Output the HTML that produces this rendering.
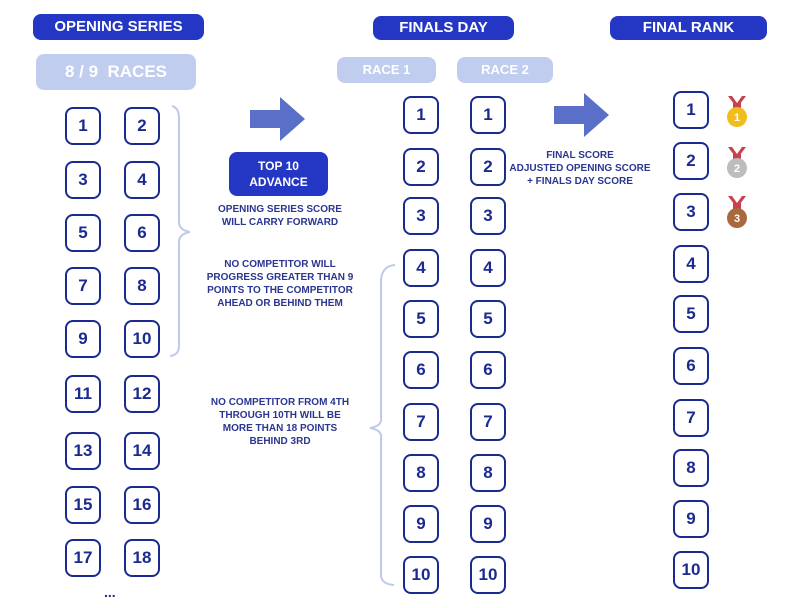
<!DOCTYPE html>
<html><head><style>
body{margin:0;width:800px;height:608px;background:#fff;position:relative;overflow:hidden;font-family:"Liberation Sans",sans-serif;}
.a{position:absolute}
.pill{position:absolute;background:#2437c4;color:#fff;font-weight:bold;text-align:center;border-radius:8px;font-size:15px;}
.bar{position:absolute;background:#c0cdee;color:#fff;font-weight:bold;text-align:center;border-radius:8px;}
.b{position:absolute;width:32px;height:34px;border:2.5px solid #1b2a8f;border-radius:8px;color:#1b2a8f;font-weight:bold;font-size:17px;text-align:center;line-height:34px;box-sizing:content-box}
.t{position:absolute;color:#2a3690;font-weight:bold;font-size:10px;text-align:center;line-height:13px}
</style></head><body>
<div class="pill" style="left:33px;top:14px;width:171px;height:26px;line-height:26px">OPENING SERIES</div>
<div class="pill" style="left:373px;top:16px;width:141px;height:24px;line-height:24px">FINALS DAY</div>
<div class="pill" style="left:610px;top:16px;width:157px;height:24px;line-height:24px">FINAL RANK</div>
<div class="bar" style="left:36px;top:54px;width:160px;height:36px;line-height:36px;font-size:17px">8 / 9&nbsp; RACES</div>
<div class="bar" style="left:337px;top:57px;width:99px;height:26px;line-height:26px;font-size:13px">RACE 1</div>
<div class="bar" style="left:457px;top:57px;width:96px;height:26px;line-height:26px;font-size:13px">RACE 2</div>

<div class="b" style="left:65px;top:107px">1</div><div class="b" style="left:124px;top:107px">2</div>
<div class="b" style="left:65px;top:161px">3</div><div class="b" style="left:124px;top:161px">4</div>
<div class="b" style="left:65px;top:214px">5</div><div class="b" style="left:124px;top:214px">6</div>
<div class="b" style="left:65px;top:267px">7</div><div class="b" style="left:124px;top:267px">8</div>
<div class="b" style="left:65px;top:320px">9</div><div class="b" style="left:124px;top:320px">10</div>
<div class="b" style="left:65px;top:375px">11</div><div class="b" style="left:124px;top:375px">12</div>
<div class="b" style="left:65px;top:432px">13</div><div class="b" style="left:124px;top:432px">14</div>
<div class="b" style="left:65px;top:486px">15</div><div class="b" style="left:124px;top:486px">16</div>
<div class="b" style="left:65px;top:539px">17</div><div class="b" style="left:124px;top:539px">18</div>
<div class="a" style="left:104px;top:584px;color:#1b2a8f;font-weight:bold;font-size:14px">...</div>

<div class="b" style="left:403px;top:96px">1</div><div class="b" style="left:470px;top:96px">1</div>
<div class="b" style="left:403px;top:148px">2</div><div class="b" style="left:470px;top:148px">2</div>
<div class="b" style="left:403px;top:197px">3</div><div class="b" style="left:470px;top:197px">3</div>
<div class="b" style="left:403px;top:249px">4</div><div class="b" style="left:470px;top:249px">4</div>
<div class="b" style="left:403px;top:300px">5</div><div class="b" style="left:470px;top:300px">5</div>
<div class="b" style="left:403px;top:351px">6</div><div class="b" style="left:470px;top:351px">6</div>
<div class="b" style="left:403px;top:403px">7</div><div class="b" style="left:470px;top:403px">7</div>
<div class="b" style="left:403px;top:454px">8</div><div class="b" style="left:470px;top:454px">8</div>
<div class="b" style="left:403px;top:505px">9</div><div class="b" style="left:470px;top:505px">9</div>
<div class="b" style="left:403px;top:556px">10</div><div class="b" style="left:470px;top:556px">10</div>

<div class="b" style="left:673px;top:91px">1</div>
<div class="b" style="left:673px;top:142px">2</div>
<div class="b" style="left:673px;top:193px">3</div>
<div class="b" style="left:673px;top:245px">4</div>
<div class="b" style="left:673px;top:295px">5</div>
<div class="b" style="left:673px;top:347px">6</div>
<div class="b" style="left:673px;top:399px">7</div>
<div class="b" style="left:673px;top:449px">8</div>
<div class="b" style="left:673px;top:500px">9</div>
<div class="b" style="left:673px;top:551px">10</div>

<svg class="a" style="left:0;top:0" width="800" height="608">
<path d="M250 110 H280 V97 L305 119 L280 141 V128 H250 Z" fill="#5a6fc8"/>
<path d="M554 106 H584 V93 L609 115 L584 137 V124 H554 Z" fill="#5a6fc8"/>
<path d="M172 106 Q179 108 179 118 V222 Q179 230 190 232 Q179 234 179 242 V346 Q179 355 170 356" fill="none" stroke="#bfcaea" stroke-width="2"/>
<path d="M395 265 Q382 266 381 280 V420 Q381 426 370 428 Q381 430 381 436 V575 Q381 584 394 585" fill="none" stroke="#bfcaea" stroke-width="2"/>
<g><path d="M728 96 L737 108 L746 96 L742 96 L737 103 L732 96 Z" fill="#c9414f"/><rect x="733" y="103" width="8" height="6" fill="#c9414f"/><circle cx="737" cy="117" r="10" fill="#f1bd1c"/><text x="737" y="121" font-size="11" font-weight="bold" fill="#fff" text-anchor="middle" font-family="Liberation Sans">1</text></g>
<g><path d="M728 147 L737 159 L746 147 L742 147 L737 154 L732 147 Z" fill="#c9414f"/><rect x="733" y="154" width="8" height="6" fill="#c9414f"/><circle cx="737" cy="168" r="10" fill="#bdbdbd"/><text x="737" y="172" font-size="11" font-weight="bold" fill="#fff" text-anchor="middle" font-family="Liberation Sans">2</text></g>
<g><path d="M728 196 L737 208 L746 196 L742 196 L737 203 L732 196 Z" fill="#c9414f"/><rect x="733" y="203" width="8" height="6" fill="#c9414f"/><circle cx="737" cy="218" r="10" fill="#a86a3c"/><text x="737" y="222" font-size="11" font-weight="bold" fill="#fff" text-anchor="middle" font-family="Liberation Sans">3</text></g>
</svg>

<div class="pill" style="left:229px;top:152px;width:99px;height:44px;font-size:12px;line-height:16px;padding-top:6px;box-sizing:border-box">TOP 10<br>ADVANCE</div>
<div class="t" style="left:195px;top:203px;width:170px">OPENING SERIES SCORE<br>WILL CARRY FORWARD</div>
<div class="t" style="left:195px;top:258px;width:170px">NO COMPETITOR WILL<br>PROGRESS GREATER THAN 9<br>POINTS TO THE COMPETITOR<br>AHEAD OR BEHIND THEM</div>
<div class="t" style="left:195px;top:396px;width:170px">NO COMPETITOR FROM 4TH<br>THROUGH 10TH WILL BE<br>MORE THAN 18 POINTS<br>BEHIND 3RD</div>
<div class="t" style="left:505px;top:149px;width:150px">FINAL SCORE<br>ADJUSTED OPENING SCORE<br>+ FINALS DAY SCORE</div>
</body></html>
